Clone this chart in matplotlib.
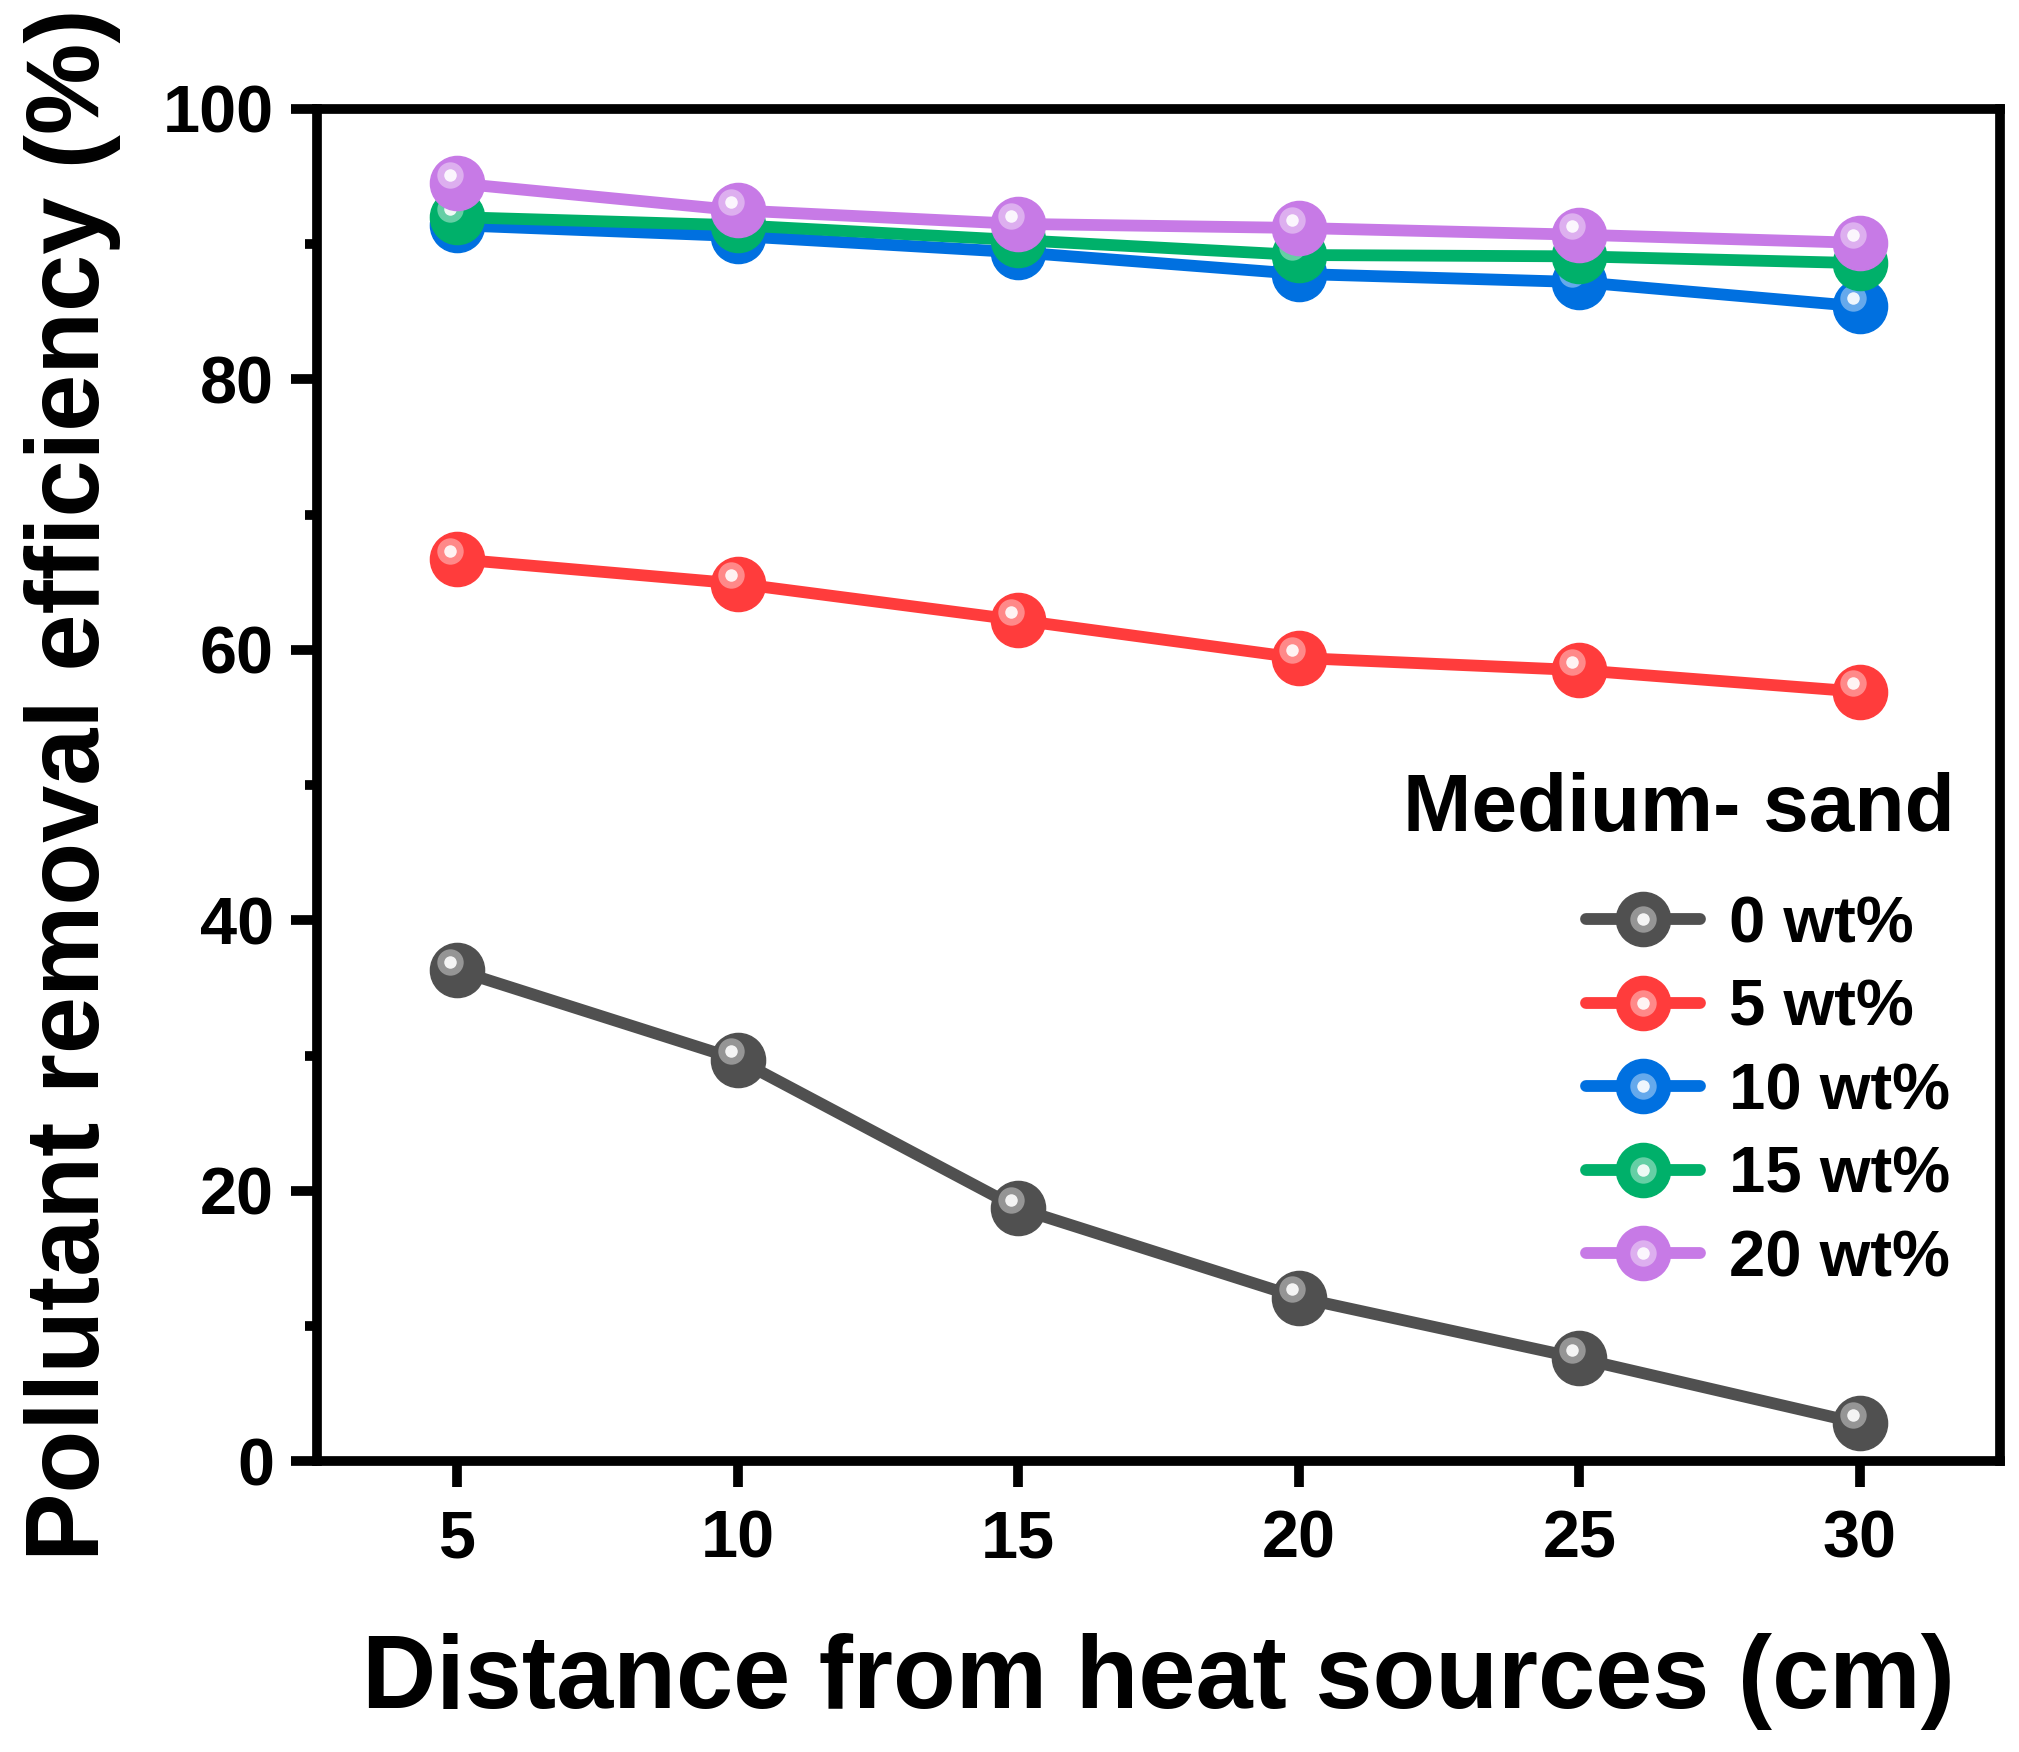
import numpy as np
import matplotlib
matplotlib.use('Agg')
import matplotlib.pyplot as plt
import matplotlib.transforms as mtransforms
from matplotlib.legend_handler import HandlerTuple
from matplotlib.ticker import MultipleLocator

plt.rcParams['font.family'] = ['Liberation Sans', 'DejaVu Sans']
plt.rcParams['font.weight'] = 'bold'

# data
distance = [5, 10, 15, 20, 25, 30]
eff_0 = [36.3, 29.7, 18.7, 12.1, 7.6, 2.8]
eff_5 = [66.7, 64.9, 62.2, 59.4, 58.5, 56.9]
eff_10 = [91.4, 90.6, 89.4, 87.8, 87.2, 85.4]
eff_15 = [92.0, 91.4, 90.3, 89.2, 89.1, 88.6]
eff_20 = [94.5, 92.5, 91.5, 91.2, 90.7, 90.1]

labels = ['0 wt%', '5 wt%', '10 wt%', '15 wt%', '20 wt%']
colors = ['#505050', '#ff3c3c', '#0070e0', '#00b06a', '#c77ae6']
series = [eff_0, eff_5, eff_10, eff_15, eff_20]

fig = plt.figure(figsize=(20.19, 17.52), dpi=100)
ax = fig.add_axes([0.157, 0.166, 0.8336, 0.7718])

# little shiny spot on each ball
shine = mtransforms.offset_copy(ax.transData, fig=fig, x=-5, y=6, units='points')

handles = []
for y, c, lab in zip(series, colors, labels):
    ln, = ax.plot(distance, y, '-o', color=c, lw=8.5, ms=39, mec=c, mfc=c,
                  solid_capstyle='round', label=lab)
    h1, = ax.plot(distance, y, 'o', ms=19, mfc='white', mec='none', alpha=0.4,
                  transform=shine)
    h2, = ax.plot(distance, y, 'o', ms=9, mfc='white', mec='none', alpha=0.9,
                  transform=shine)
    handles.append((ln, h1, h2))

ax.set_xlim(2.5, 32.5)
ax.set_ylim(0, 100)
ax.xaxis.set_major_locator(MultipleLocator(5))
ax.yaxis.set_major_locator(MultipleLocator(20))
ax.yaxis.set_minor_locator(MultipleLocator(10))

for s in ax.spines.values():
    s.set_linewidth(7)
ax.tick_params(axis='both', which='major', direction='out', length=19, width=7,
               labelsize=48, pad=12)
ax.tick_params(axis='x', which='major', pad=16)
ax.tick_params(axis='y', which='minor', direction='out', length=9, width=7)
ax.tick_params(axis='x', which='minor', length=0)
ax.tick_params(top=False, right=False)

ax.set_xlabel('Distance from heat sources (cm)', fontsize=74, fontweight='bold', labelpad=44)
ax.set_ylabel('Pollutant removal efficiency (%)', fontsize=74, fontweight='bold', labelpad=30)

leg = ax.legend(handles, labels, handler_map={tuple: HandlerTuple(ndivide=1, pad=0)},
                loc='lower right', bbox_to_anchor=(0.99, 0.103),
                frameon=False, fontsize=47, alignment='right',
                handlelength=1.75, handletextpad=0.45, labelspacing=0.36,
                borderpad=0, numpoints=1)

ax.text(0.973, 0.466, 'Medium- sand', transform=ax.transAxes, ha='right',
        va='baseline', fontsize=59, fontweight='bold')

plt.savefig('out.png', dpi=100)
